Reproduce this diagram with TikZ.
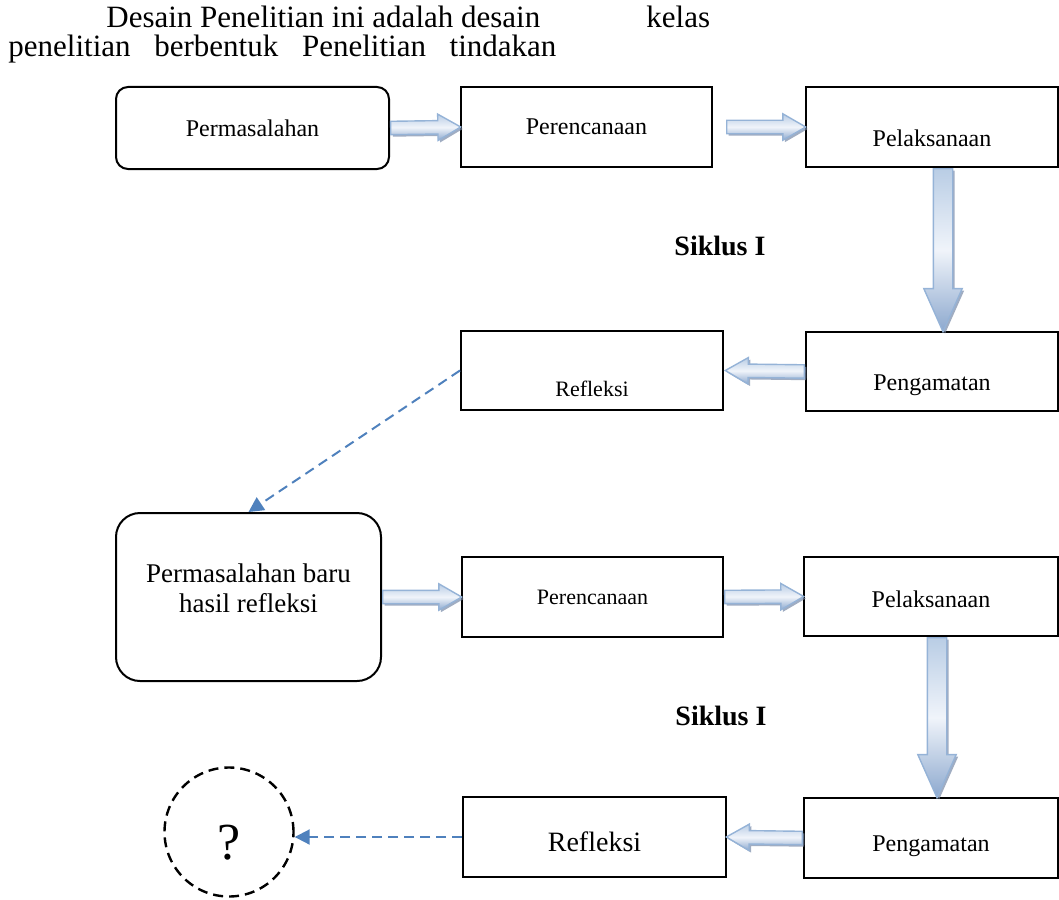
\documentclass[tikz,border=0pt]{standalone}
\usepackage{fontspec}
\setmainfont{Liberation Serif}
\usetikzlibrary{arrows.meta,shapes.arrows,shadows,calc}

\definecolor{arrowedge}{RGB}{149,179,215}
\definecolor{arrowtop}{RGB}{185,205,229}
\definecolor{arrowmid}{RGB}{240,244,250}
\definecolor{arrowbot}{RGB}{140,168,206}
\definecolor{arrowshade}{RGB}{120,138,168}
\definecolor{linkblue}{RGB}{79,129,189}

% fat shaded arrow between two points
\newcommand{\fatarrow}[3][]{%
  \path let \p1=(#2), \p2=(#3), \n1={veclen(\x2-\x1,\y2-\y1)} in
    (\p1) -- (\p2) node[blockarrow, #1, pos=0, anchor=tail, sloped, allow upside down, minimum height=\n1] {};}

\tikzset{
  heading/.style={inner sep=0pt, font=\fontsize{15.5}{17}\selectfont},
  stage/.style={draw, line width=1pt, inner sep=2pt, font=\fontsize{12}{14}\selectfont},
  roundstage/.style={stage, rounded corners=6pt},
  lowtext/.style={text depth=0pt, text height=#1},
  blockarrow/.style={single arrow, draw=arrowedge, line width=0.7pt, inner xsep=0pt, inner ysep=3pt,
    single arrow head extend=3.25pt, single arrow tip angle=60,
    top color=arrowtop, bottom color=arrowbot, middle color=arrowmid,
    drop shadow={fill=arrowshade, opacity=0.7, shadow xshift=1pt, shadow yshift=-1pt}},
  bigarrow/.style={inner ysep=4.5pt, single arrow head extend=4.75pt, single arrow tip angle=48},
  link/.style={draw=linkblue, line width=1pt, dash pattern=on 5pt off 3pt,
    -{Triangle[length=7.5pt,width=7.5pt]}},
  cyclabel/.style={font=\bfseries\fontsize{14}{16}\selectfont}
}

\begin{document}
\begin{tikzpicture}[x=0.5pt, y=-0.5pt]
  \useasboundingbox (0,0) rectangle (1059,899);
  % heading text
  \node[heading, anchor=base west] (head1) at (106,28) {Desain Penelitian ini adalah desain};
  \node[heading, anchor=base west] (head2) at (646,28) {kelas};
  \node[heading, anchor=base west] (head3) at (8,57) {\makebox[274pt][s]{penelitian berbentuk Penelitian tindakan}};

  % first cycle
  \node[roundstage, minimum width=136.5pt, minimum height=41pt] (prob) at (252.5,128) {Permasalahan};
  \node[stage, minimum width=125.5pt, minimum height=39.5pt] (plan1) at (586.5,127) {Perencanaan};
  \node[stage, lowtext=20pt, minimum width=126pt, minimum height=40pt] (act1) at (932,127) {Pelaksanaan};
  \node[stage, lowtext=18.5pt, minimum width=126pt, minimum height=39.5pt] (obs1) at (932,371.5) {Pengamatan};
  \node[stage, lowtext=26pt, minimum width=131pt, minimum height=39.5pt, font=\fontsize{11}{13}\selectfont] (refl1) at (592,370.5) {Refleksi};
  \node[cyclabel] (cyc1) at (720,246) {Siklus I};

  % second cycle
  \node[roundstage, rounded corners=12pt, minimum width=132.5pt, minimum height=84pt] (newprob) at (248.5,597) {};
  \node[align=center, font=\fontsize{13.5}{15}\selectfont] (newprobt) at ([yshift=4.5pt]newprob.center) {Permasalahan baru\\hasil refleksi};
  \node[stage, minimum width=130.5pt, minimum height=40pt, font=\fontsize{11}{13}\selectfont] (plan2) at (592.5,597) {Perencanaan};
  \node[stage, lowtext=11pt, minimum width=127pt, minimum height=39.5pt] (act2) at (931,596.5) {Pelaksanaan};
  \node[stage, lowtext=13pt, minimum width=127pt, minimum height=40pt] (obs2) at (931,838) {Pengamatan};
  \node[stage, lowtext=14pt, minimum width=131.5pt, minimum height=40pt, font=\fontsize{14}{16}\selectfont] (refl2) at (594.5,837) {Refleksi};
  \node[cyclabel] (cyc2) at (721,716) {Siklus I};
  \node[circle, draw, line width=1.2pt, dash pattern=on 5pt off 3pt, minimum size=64.5pt, inner sep=0pt,
    lowtext=27.5pt, font=\fontsize{26}{28}\selectfont] (q) at (229,832) {?};

  % fat arrows
  \fatarrow[name=ar1]{prob.east}{plan1.west}
  \fatarrow[name=ar2]{[xshift=6.5pt]plan1.east}{act1.west}
  \fatarrow[name=ar3, bigarrow]{[xshift=5.5pt]act1.south}{[xshift=5.5pt]obs1.north}
  \fatarrow[name=ar4]{obs1.west}{[xshift=1pt]refl1.east}
  \fatarrow[name=ar5]{newprob.east}{plan2.west}
  \fatarrow[name=ar6]{plan2.east}{act2.west}
  \fatarrow[name=ar7, bigarrow]{[xshift=3pt]act2.south}{[xshift=3pt]obs2.north}
  \fatarrow[name=ar8]{obs2.west}{refl2.east}

  % dashed links
  \draw[link] (refl1.west) -- (newprob.north);
  \draw[link] (refl2.west) -- (refl2.west -| q.east);
\end{tikzpicture}
\end{document}
